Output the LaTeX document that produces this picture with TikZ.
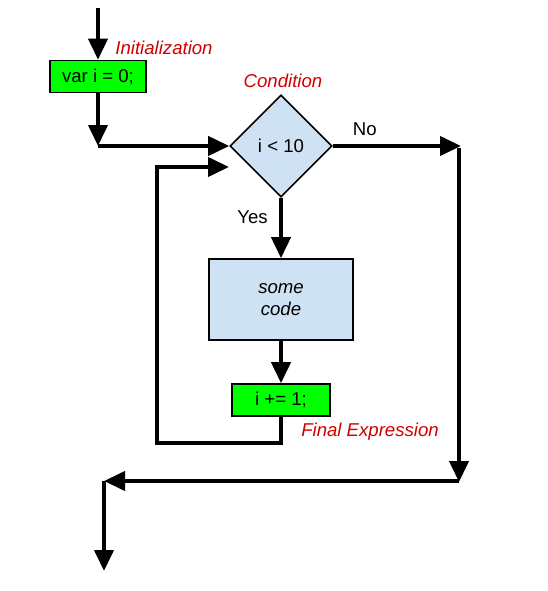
\documentclass[tikz,border=0pt]{standalone}
\usepackage{fontspec}
\setmainfont{Liberation Sans}
\definecolor{LoopGreen}{HTML}{00FF00}
\definecolor{LoopBlue}{HTML}{CFE2F3}
\definecolor{LoopRed}{HTML}{D00000}
\usetikzlibrary{arrows.meta,shapes.geometric}

\begin{document}
\begin{tikzpicture}[
  x=1pt,y=-1pt,
  >={Triangle[length=21pt,width=19pt]},
  every node/.style={font=\fontsize{18.6}{21.5}\selectfont},
  flow/.style={line width=4pt},
  stepbox/.style={draw,line width=1.6pt,fill=LoopGreen,minimum height=32pt,inner sep=0pt},
  codebox/.style={draw,line width=1.6pt,fill=LoopBlue,align=center,minimum width=144pt,
    minimum height=81pt,inner sep=0pt,font=\fontsize{18.6}{21.5}\selectfont\itshape},
  cond/.style={draw,diamond,line width=1.6pt,fill=LoopBlue,minimum width=102pt,
    minimum height=102pt,inner sep=0pt},
  note/.style={text=LoopRed,font=\fontsize{18.6}{21.5}\selectfont\itshape}
]
  \useasboundingbox (0,0) rectangle (548,591);

  \node[stepbox,minimum width=96pt] (init) at (98,76.5) {var i = 0;};
  \node[cond] (test) at (281,146) {i < 10};
  \node[codebox] (body) at (281,299.5) {some\\code};
  \node[stepbox,minimum width=98pt] (incr) at (281,400) {i += 1;};

  \node[note] (initlbl) at (164,48) {Initialization};
  \node[note] (condlbl) at (283,81) {Condition};
  \node[note] (finallbl) at (370,432) {Final Expression};

  \coordinate (start) at (98,8);
  \coordinate (join) at (98,146);
  \coordinate (noend) at (461,146);
  \coordinate (nodown) at (459,148);
  \coordinate (exitR) at (459,482);
  \coordinate (exitL) at (104,481);
  \coordinate (finish) at (104,571);
  \coordinate (loopbl) at (157,443);
  \coordinate (loopin) at (229,167);

  \draw[flow,->] (start) -- (init);
  \draw[flow,->] (init) -- (join);
  \draw[flow,->] (join) -- (test.west);
  \draw[flow,->] (test.east) -- node[above=5pt,pos=0.25] (nolbl) {No} (noend);
  \draw[flow,->] (test.south) -- node[left=8pt,pos=0.32] (yeslbl) {Yes} (body.north);
  \draw[flow,->] (body) -- (incr);
  \draw[flow,->] (incr.south) |- (loopbl) |- (loopin);
  \draw[flow,->] (nodown) -- (exitR);
  \draw[flow,->] (exitR |- exitL) -- (exitL);
  \draw[flow,->] (exitL) -- (finish);
\end{tikzpicture}
\end{document}
